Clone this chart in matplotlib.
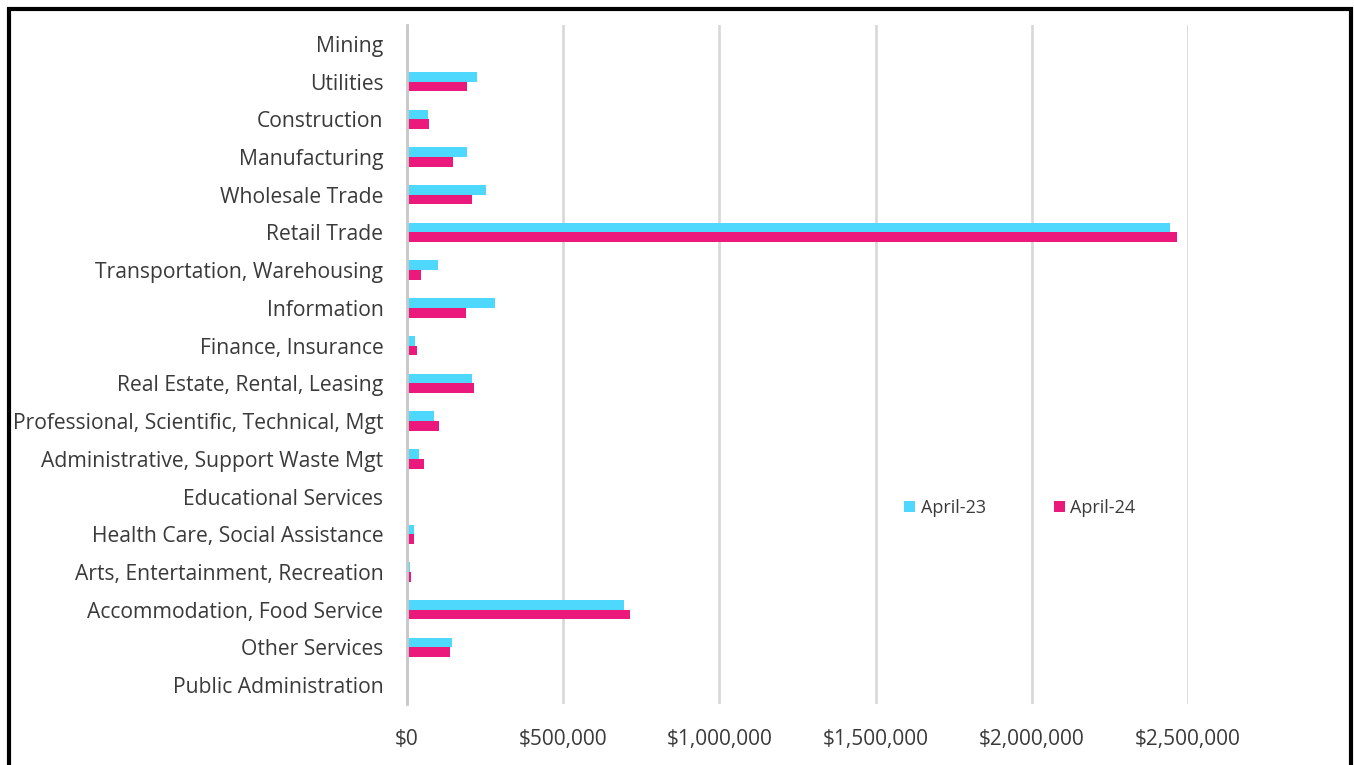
import matplotlib
matplotlib.use("Agg")
import matplotlib.pyplot as plt
from matplotlib.patches import Rectangle
from matplotlib.ticker import FuncFormatter
import numpy as np

# Data
categories = ["Mining", "Utilities", "Construction", "Manufacturing", "Wholesale Trade",
              "Retail Trade", "Transportation, Warehousing", "Information", "Finance, Insurance",
              "Real Estate, Rental, Leasing", "Professional, Scientific, Technical, Mgt",
              "Administrative, Support Waste Mgt", "Educational Services",
              "Health Care, Social Assistance", "Arts, Entertainment, Recreation",
              "Accommodation, Food Service", "Other Services", "Public Administration"]
april_23 = [0, 225000, 68000, 191000, 253000, 2442000, 99000, 282000, 25000,
            207000, 85000, 40000, 0, 21000, 11000, 694000, 145000, 0]
april_24 = [0, 191000, 72000, 147000, 208000, 2466000, 44000, 189000, 33000,
            213000, 104000, 56000, 0, 24000, 12000, 713000, 137000, 0]
series_names = ["April-23", "April-24"]
xticks = [0, 500000, 1000000, 1500000, 2000000, 2500000]

CYAN = "#4FD8FD"
PINK = "#EB197B"
TEXT = "#3A3A3A"
GRID = "#D9D9D9"

plt.rcParams['font.family'] = ['Open Sans', 'DejaVu Sans']

fig = plt.figure(figsize=(13.54, 7.65), dpi=100)
ax = fig.add_axes([407/1354, 1 - 704/765, (1188 - 407)/1354, (704 - 25)/765])

y = np.arange(len(categories))
h = 0.257
ax.barh(y - h/2, april_23, height=h, color=CYAN, label=series_names[0], zorder=3)
ax.barh(y + h/2, april_24, height=h, color=PINK, label=series_names[1], zorder=3)

ax.set_ylim(len(categories) - 0.5, -0.5)
ax.set_xlim(0, 2500000)
ax.set_yticks(y)
ax.set_yticklabels(categories, fontsize=15.2, color=TEXT)
ax.set_xticks(xticks)
ax.xaxis.set_major_formatter(FuncFormatter(lambda v, p: "${:,.0f}".format(v)))
ax.tick_params(axis="x", labelsize=15, colors=TEXT, length=0, pad=18)
ax.tick_params(axis="y", length=0, pad=17)

ax.grid(axis="x", color=GRID, linewidth=2, zorder=0)
for s in ["top", "right", "bottom"]:
    ax.spines[s].set_visible(False)
ax.spines["left"].set_color("#C8C8C8")
ax.spines["left"].set_linewidth(2)
ax.spines["left"].set_zorder(4)

ax.legend(loc="center", bbox_to_anchor=((1020 - 407)/(1188 - 407), (704 - 508)/(704 - 25)),
          ncol=2, frameon=False, fontsize=13, handlelength=0.6, handleheight=0.6,
          handletextpad=0.3, columnspacing=3.8, labelcolor=TEXT)

# Figure frame
fig.patches.append(Rectangle((8.5/1354, -0.05), (1350.5 - 8.5)/1354, 1.05 - 9.5/765,
                             transform=fig.transFigure, fill=False, edgecolor="black",
                             linewidth=3, zorder=10))

fig.savefig("out.png", dpi=100)
